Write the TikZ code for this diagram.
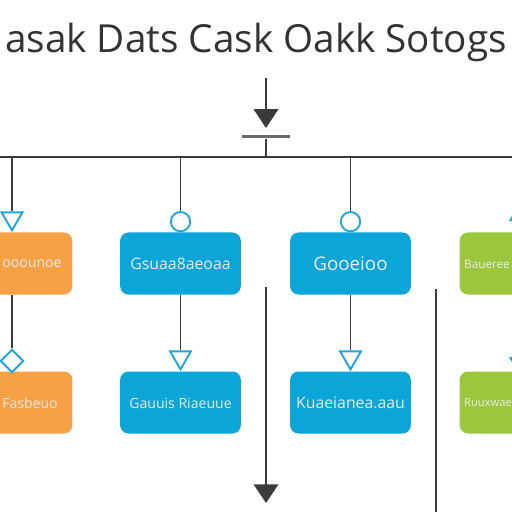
\documentclass[tikz,border=0pt]{standalone}
\usepackage{fontspec}
\setmainfont{Open Sans}
\usetikzlibrary{arrows.meta,shapes.geometric}
\definecolor{orangebox}{HTML}{F7A147}
\definecolor{bluebox}{HTML}{0BA5D7}
\definecolor{greenbox}{HTML}{9CC73D}
\definecolor{markblue}{HTML}{1CA7DF}
\definecolor{linegray}{HTML}{3C3A3C}
\definecolor{bargray}{HTML}{6A686A}
\begin{document}
\begin{tikzpicture}[x=0.03cm,y=-0.03cm,
	box/.style={rounded corners=0.25cm,minimum width=3.62cm,minimum height=1.86cm,inner sep=0pt},
	label/.style={text=white!92!black,inner sep=0pt,font=\fontsize{12}{14}\selectfont},
	line/.style={draw=linegray,line width=1.5pt},
	ring/.style={circle,draw=markblue,line width=1.6pt,minimum size=0.58cm,inner sep=0pt},
	tri/.style={regular polygon,regular polygon sides=3,shape border rotate=180,draw=markblue,line width=1.6pt,minimum size=0.72cm,inner sep=0pt},
	tipA/.style={-{Triangle[width=21pt,length=16pt]}}]
	% Rahmen
	\fill[white] (0,0) rectangle (512,512);
	\useasboundingbox (0,0) rectangle (512,512);
	\clip (0,0) rectangle (512,512);
	% Titel
	\node[anchor=base,text=black!80,font=\fontsize{33}{38}\selectfont] (titel) at (256,53) {asak Dats Cask Oakk Sotogs};
	% Zufuehrung oben
	\coordinate (start) at (266,78);
	\node[fill=bargray,minimum width=1.44cm,minimum height=0.09cm,inner sep=0pt] (balken) at (266,137) {};
	\draw[line,tipA,shorten >=0.22cm] (start) -- (balken.north);
	\coordinate (links) at (0,157);
	\coordinate (rechts) at (520,157);
	\draw[line] (balken.south) -- (balken.south |- links);
	\draw[line] (links) -- (rechts);
	% Kaesten oben
	\node[box,fill=orangebox] (o1) at (12,263.5) {};
	\node[box,fill=bluebox] (b1) at (180.5,263.5) {};
	\node[box,fill=bluebox] (c1) at (350.5,263.5) {};
	\node[box,fill=greenbox] (g1) at (520,263.5) {};
	% Kaesten unten
	\node[box,fill=orangebox] (o2) at (12,402.5) {};
	\node[box,fill=bluebox] (b2) at (180.5,402.5) {};
	\node[box,fill=bluebox] (c2) at (350.5,402.5) {};
	\node[box,fill=greenbox] (g2) at (520,402.5) {};
	% Beschriftung
	\node[label] (to1) at (32,264) {ooounoe};
	\node[label,font=\fontsize{13.5}{15}\selectfont] (tb1) at (180.5,264) {Gsuaa8aeoaa};
	\node[label,font=\fontsize{16}{18}\selectfont] (tc1) at (350.5,264) {Gooeioo};
	\node[label,anchor=west,font=\fontsize{10}{12}\selectfont] (tg1) at (464,264) {Baueree};
	\node[label] (to2) at (30,403) {Fasbeuo};
	\node[label] (tb2) at (180.5,403) {Gauuis Riaeuue};
	\node[label,font=\fontsize{13.5}{15}\selectfont] (tc2) at (350.5,403) {Kuaeianea.aau};
	\node[label,anchor=west,font=\fontsize{9.5}{12}\selectfont] (tg2) at (464,403) {Ruuxwae};
	% Marker
	\node[tri,anchor=south] (m1) at (o1.north) {};
	\node[ring,anchor=south] (m2) at (b1.north) {};
	\node[ring,anchor=south] (m3) at (c1.north) {};
	\node[tri,shape border rotate=0] (m4) at (521,214) {};
	\node[diamond,draw=markblue,line width=1.6pt,minimum size=0.7cm,inner sep=0pt] (n1) at (12,361) {};
	\node[tri,anchor=south] (n2) at (b2.north) {};
	\node[tri,anchor=south] (n3) at (c2.north) {};
	\node[tri] (n4) at (521,364) {};
	% Verbindungen
	\draw[line] (m1.north |- links) -- (m1.north);
	\draw[line] (m2.north |- links) -- (m2.north);
	\draw[line] (m3.north |- links) -- (m3.north);
	\draw[line] (o1.south) -- (n1.north);
	\draw[line] (b1.south) -- (n2.north);
	\draw[line] (c1.south) -- (n3.north);
	% freie Linien
	\coordinate (pfeilA) at (266,287);
	\coordinate (pfeilB) at (266,503);
	\draw[line,tipA] (pfeilA) -- (pfeilB);
	\coordinate (stabA) at (436,289);
	\coordinate (stabB) at (436,515);
	\draw[line] (stabA) -- (stabB);
\end{tikzpicture}
\end{document}
